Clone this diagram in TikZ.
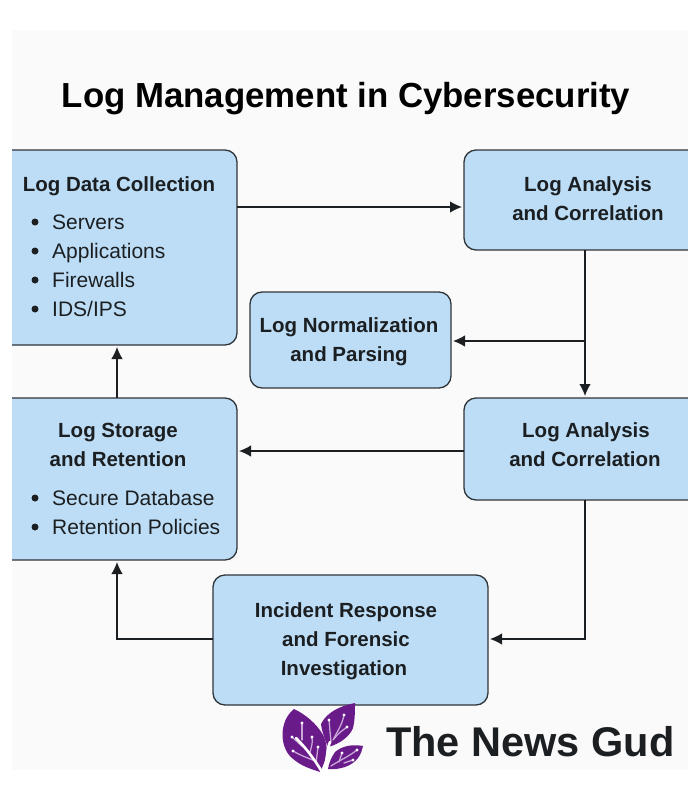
\documentclass[tikz,border=0pt]{standalone}
\usepackage{fontspec}
\setmainfont{Liberation Sans}
\usetikzlibrary{arrows.meta}
\definecolor{boxblue}{HTML}{BCDDF5}
\definecolor{boxline}{HTML}{30353A}
\definecolor{panel}{HTML}{FAFAFA}
\definecolor{inkdark}{HTML}{1C1F22}
\definecolor{leaf}{HTML}{6A1B8A}
\definecolor{veinlight}{HTML}{C9A6D8}
\tikzset{
  bx/.style={draw=boxline,line width=1.3pt,fill=boxblue,rounded corners=12pt},
  head/.style={font=\fontsize{20.5}{24}\selectfont\bfseries,text=inkdark,inner sep=0pt,anchor=base},
  item/.style={font=\fontsize{21}{24}\selectfont,text=inkdark,inner sep=0pt,anchor=base west},
  dot/.style={circle,fill=inkdark,inner sep=0pt,minimum size=7pt},
  conn/.style={draw=inkdark,line width=1.3pt,-{Latex[length=12pt,width=11.5pt]}},
  vein/.style={draw=veinlight,line width=1.3pt,line cap=round},
  veinb/.style={draw=white,line width=2.6pt,line cap=round},
  tipdot/.style={circle,fill=white,inner sep=0pt,minimum size=3.4pt}
}
\begin{document}
\begin{tikzpicture}[x=1pt,y=-1pt]
\useasboundingbox (0,0) rectangle (700,800);
\fill[white] (0,0) rectangle (700,800);
\fill[panel] (12,30) rectangle (688,770);
\node[inner sep=0pt,anchor=base,font=\fontsize{34.8}{40}\selectfont\bfseries,text=black] (title) at (346,107) {Log Management in Cybersecurity};
% boxes
\draw[bx] (-20,150) rectangle (237,345);
\coordinate (aE) at (237,207); \coordinate (aS) at (117,347);
\draw[bx] (464,150) rectangle (720,250);
\coordinate (bW) at (462,207); \coordinate (bS) at (585,250);
\draw[bx] (250,292) rectangle (451,388);
\coordinate (nE) at (453,341);
\draw[bx] (464,398) rectangle (720,500);
\coordinate (dN) at (585,396); \coordinate (dW) at (464,451); \coordinate (dS) at (585,500);
\draw[bx] (-20,398) rectangle (237,560);
\coordinate (sE) at (239,451); \coordinate (sN) at (117,398); \coordinate (sS) at (117,562);
\draw[bx] (213,575) rectangle (488,705);
\coordinate (iE) at (490,639); \coordinate (iW) at (213,639);
\coordinate (bend) at (585,341);
% margins outside the panel
\fill[white] (0,140) rectangle (12,570);
\fill[white] (688,140) rectangle (700,510);
% connectors
\draw[conn] (aE) -- (bW);
\draw[conn] (bS) -- (dN);
\draw[conn] (bend) -- (nE);
\draw[conn] (dW) -- (sE);
\draw[conn] (dS) |- (iE);
\draw[conn] (iW) -| (sS);
\draw[conn] (sN) -- (aS);
% texts
\node[head] (a0) at (119,191) {Log Data Collection};
\foreach \n/\y/\t in {a1/229/Servers,a2/258/Applications,a3/287/Firewalls,a4/316/{IDS/IPS}}{
  \node[item] (\n) at (52,\y) {\t};
  \node[dot] (\n d) at (35,\y-7) {};
}
\node[head] (b0) at (588,191) {Log Analysis};
\node[head] (b1) at (588,220) {and Correlation};
\node[head] (n0) at (349,332) {Log Normalization};
\node[head] (n1) at (349,361) {and Parsing};
\node[head] (d0) at (586,437) {Log Analysis};
\node[head] (d1) at (585,466) {and Correlation};
\node[head] (s0) at (118,437) {Log Storage};
\node[head] (s1) at (118,466) {and Retention};
\foreach \n/\y/\t in {s2/505/Secure Database,s3/534/Retention Policies}{
  \node[item] (\n) at (52,\y) {\t};
  \node[dot] (\n d) at (35,\y-7) {};
}
\node[head] (i0) at (346,617) {Incident Response};
\node[head] (i1) at (346,646) {and Forensic};
\node[head] (i2) at (344,675) {Investigation};
% logo
\fill[leaf] (294,709) .. controls (278,722) and (280,748) .. (292,758) .. controls (302,767) and (312,769) .. (320,772) .. controls (326,760) and (330,748) .. (323,735) .. controls (317,724) and (305,714) .. (294,709) -- cycle;
\fill[leaf] (355,703) .. controls (340,706) and (327,712) .. (321,724) .. controls (322,732) and (325,740) .. (328,747) .. controls (340,744) and (350,736) .. (353,728) .. controls (355,720) and (355,710) .. (355,703) -- cycle;
\fill[leaf] (363,746) .. controls (352,744) and (342,746) .. (335,752) .. controls (331,758) and (329,763) .. (328,769) .. controls (340,770) and (352,766) .. (358,758) .. controls (361,754) and (362,750) .. (363,746) -- cycle;
\draw[vein] (302,723) -- (302,740);
\draw[vein] (292,737) -- (303,747);
\draw[vein] (312,737) .. controls (313,744) and (311,748) .. (310,752);
\draw[vein] (293,751) .. controls (300,755) and (305,757) .. (313,760);
\draw[vein] (318,747) -- (316,763);
\draw[vein] (329,720) -- (331,742);
\draw[vein] (344,715) .. controls (342,725) and (338,730) .. (333,740);
\draw[vein] (347,727) .. controls (342,731) and (338,733) .. (334,739);
\draw[vein] (357,750) .. controls (348,757) and (340,760) .. (331,766);
\draw[vein] (342,753) -- (339,762);
\draw[vein] (353,760) -- (344,763);
\draw[veinb] (296,738) .. controls (306,748) and (315,760) .. (322,772);
\draw[veinb] (325,772) .. controls (327,758) and (327,750) .. (330,742);
\foreach \p/\x/\yy in {t1/302/723,t2/292/737,t3/312/737,t4/293/751,t5/318/747,t6/329/720,t7/344/715,t8/347/727,t9/357/750,t10/342/753,t11/353/760}{
  \node[tipdot] (\p) at (\x,\yy) {};
}
\node[font=\fontsize{41.5}{46}\selectfont\bfseries,text=inkdark,inner sep=0pt,anchor=base west] (brand) at (386,756) {The News Gud};
\end{tikzpicture}
\end{document}
